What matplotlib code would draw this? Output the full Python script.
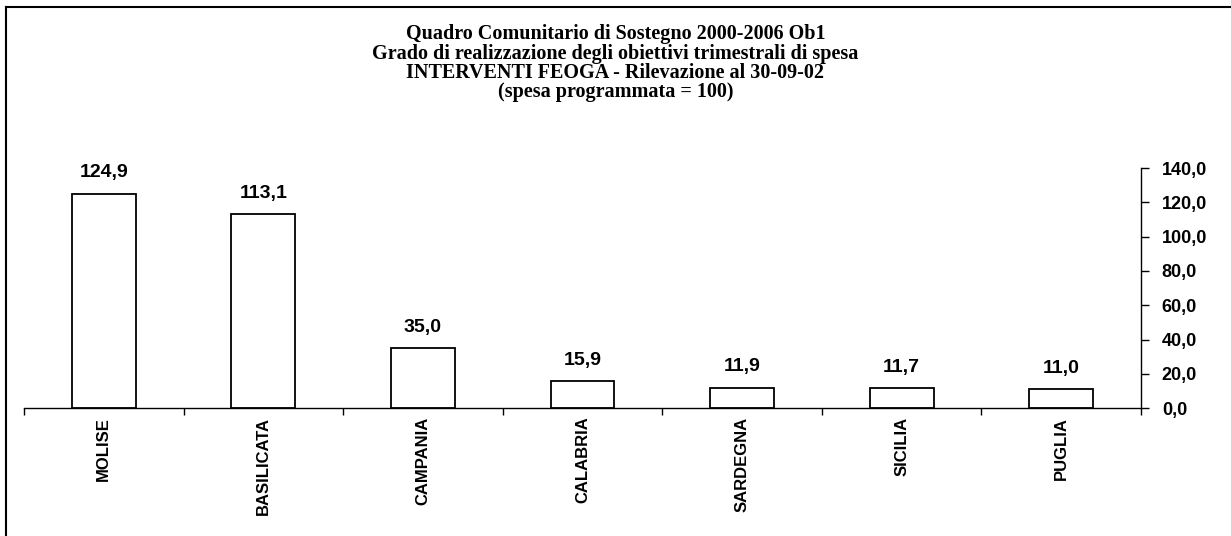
import matplotlib.pyplot as plt
from matplotlib.lines import Line2D
import numpy as np

# dati
regioni = ["MOLISE", "BASILICATA", "CAMPANIA", "CALABRIA", "SARDEGNA", "SICILIA", "PUGLIA"]
valori = [124.9, 113.1, 35.0, 15.9, 11.9, 11.7, 11.0]
tick_y = [0, 20, 40, 60, 80, 100, 120, 140]

righe_titolo = ["Quadro Comunitario di Sostegno 2000-2006 Ob1",
                "Grado di realizzazione degli obiettivi trimestrali di spesa",
                "INTERVENTI FEOGA - Rilevazione al 30-09-02",
                "(spesa programmata = 100)"]

W, H = 1231, 536
fig = plt.figure(figsize=(W / 100, H / 100), dpi=100)
ax = fig.add_axes([24 / W, 1 - 408.3 / H, (1141 - 24) / W, 240.3 / H])

x = np.arange(len(regioni))
ax.bar(x, valori, width=0.4, color="white", edgecolor="black", linewidth=1.3)

sans = "Liberation Sans"
for xi, v in zip(x, valori):
    ax.annotate(f"{v:.1f}".replace(".", ","), (xi, v), xytext=(0, 9), textcoords="offset points",
                ha="center", va="bottom", fontsize=14, fontweight="bold", family=sans)

ax.set_xlim(-0.5, len(regioni) - 0.5)
ax.set_ylim(0, 140)

# asse y a destra
ax.yaxis.tick_right()
ax.set_yticks(tick_y)
ax.set_yticklabels([f"{t:.1f}".replace(".", ",") for t in tick_y],
                   fontsize=13, fontweight="bold", family=sans)
ax.tick_params(axis="y", direction="out", length=6, width=1, pad=9)

# asse x: tacche tra le categorie
ax.set_xticks(np.arange(len(regioni) + 1) - 0.5)
ax.set_xticklabels([])
ax.set_xticks(x, minor=True)
ax.set_xticklabels(regioni, minor=True, rotation=90, fontsize=12, fontweight="bold", family=sans)
ax.tick_params(axis="x", which="major", direction="out", length=5, width=1)
ax.tick_params(axis="x", which="minor", length=0, pad=6)

for s in ["top", "left"]:
    ax.spines[s].set_visible(False)
ax.spines["bottom"].set_linewidth(1)
ax.spines["right"].set_linewidth(1)

# titolo, una riga alla volta
for i, riga in enumerate(righe_titolo):
    fig.text(615.5 / W, 1 - (34 + 19.5 * i) / H, riga, ha="center", va="center",
             fontsize=14.5, fontweight="bold", family="Liberation Serif")

# cornice (solo lato superiore e sinistro visibili)
fig.add_artist(Line2D([6 / W, 1], [1 - 7 / H, 1 - 7 / H], color="black", lw=1.5))
fig.add_artist(Line2D([6 / W, 6 / W], [0, 1 - 7 / H], color="black", lw=1.5))

fig.savefig("out.png", dpi=100)
